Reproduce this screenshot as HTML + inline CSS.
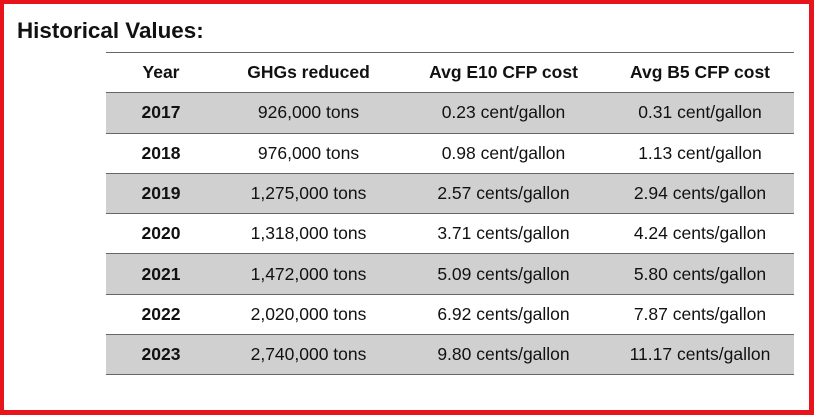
<!DOCTYPE html>
<html><head><style>
body{margin:0;width:814px;height:415px;overflow:hidden;background:#fff;font-family:"Liberation Sans",Arial,sans-serif;}
.frame{position:absolute;left:0;top:0;width:814px;height:415px;box-sizing:border-box;border:4px solid #e8141b;border-right-width:5px;border-bottom-width:5px;}
h1{position:absolute;left:17px;top:18px;margin:0;font-size:22.4px;font-weight:bold;color:#111;}
table{position:absolute;left:106px;top:52px;width:688px;border-collapse:collapse;font-size:17.5px;color:#111;}
td,th{height:39.3px;text-align:center;border-top:1.5px solid #666;padding:0;}
tr:last-child td{border-bottom:1.5px solid #666;}
th{font-weight:bold;}
tr.g td{background:#d0d0d0;}
td:first-child{font-weight:bold;}
</style></head><body>
<div class="frame"></div>
<h1>Historical Values:</h1>
<table>
<colgroup><col style="width:110px"><col style="width:185px"><col style="width:205px"><col style="width:188px"></colgroup>
<tr><th>Year</th><th>GHGs reduced</th><th>Avg E10 CFP cost</th><th>Avg B5 CFP cost</th></tr>
<tr class="g"><td>2017</td><td>926,000 tons</td><td>0.23 cent/gallon</td><td>0.31 cent/gallon</td></tr>
<tr><td>2018</td><td>976,000 tons</td><td>0.98 cent/gallon</td><td>1.13 cent/gallon</td></tr>
<tr class="g"><td>2019</td><td>1,275,000 tons</td><td>2.57 cents/gallon</td><td>2.94 cents/gallon</td></tr>
<tr><td>2020</td><td>1,318,000 tons</td><td>3.71 cents/gallon</td><td>4.24 cents/gallon</td></tr>
<tr class="g"><td>2021</td><td>1,472,000 tons</td><td>5.09 cents/gallon</td><td>5.80 cents/gallon</td></tr>
<tr><td>2022</td><td>2,020,000 tons</td><td>6.92 cents/gallon</td><td>7.87 cents/gallon</td></tr>
<tr class="g"><td>2023</td><td>2,740,000 tons</td><td>9.80 cents/gallon</td><td>11.17 cents/gallon</td></tr>
</table>
</body></html>
